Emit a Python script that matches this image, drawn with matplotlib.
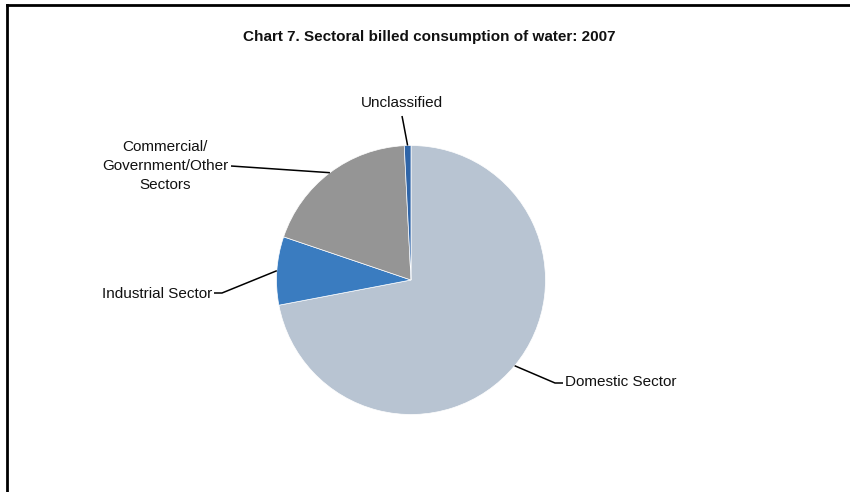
import numpy as np
import matplotlib
matplotlib.use("Agg")
import matplotlib.pyplot as plt
from matplotlib.lines import Line2D

plt.rcParams['font.family'] = ['Liberation Sans', 'DejaVu Sans']

categories = ["Domestic Sector", "Industrial Sector", "Commercial/\nGovernment/Other\nSectors", "Unclassified"]
values = [72.0, 8.2, 19.0, 0.8]
colors = ["#B8C4D2", "#3A7CC0", "#959595", "#2F65A8"]
title = "Chart 7. Sectoral billed consumption of water: 2007"

W, H = 850, 492
cx, cy, R = 411, 280, 134.5

fig = plt.figure(figsize=(W / 100, H / 100), dpi=100)
ax = fig.add_axes([0, 0, 1, 1])

def px(x, y):
    return (x - cx) / R, (cy - y) / R

wedges, _ = ax.pie(values, colors=colors, startangle=90, counterclock=False,
                   radius=1, center=(0, 0),
                   wedgeprops=dict(edgecolor="white", linewidth=0.5))
ax.set_xlim(px(0, 0)[0], px(W, 0)[0])
ax.set_ylim(px(0, H)[1], px(0, 0)[1])
ax.set_aspect('auto')
ax.axis('off')

def edge(w):
    a = np.deg2rad((w.theta1 + w.theta2) / 2)
    return np.cos(a), np.sin(a)

# label layout: (text position px, ha, leader waypoints px)
layout = [
    ((565, 382), 'left', [(555, 383), (563, 383)]),
    ((212, 294), 'right', [(222, 293), (214, 293)]),
    ((165, 166), 'center', [(231, 166)]),
    ((402, 103), 'center', [(403, 121), (402, 116)]),
]

for w, lab, (tp, ha, pts) in zip(wedges, categories, layout):
    ex, ey = edge(w)
    xs = [ex] + [px(*p)[0] for p in pts]
    ys = [ey] + [px(*p)[1] for p in pts]
    ax.plot(xs, ys, color="black", lw=1.1, solid_capstyle='butt')
    tx, ty = px(*tp)
    ax.text(tx, ty, lab, ha=ha, va='center', fontsize=11, color="#111111",
            linespacing=1.45, multialignment='center')

fig.text(429 / W, 1 - 37 / H, title, ha='center', va='center',
         fontsize=11, fontweight='bold', color="#111111")

# frame lines (left and top only)
fig.add_artist(Line2D([6.5 / W, 6.5 / W], [0, 1 - 4.5 / H], transform=fig.transFigure,
                      color="black", lw=2))
fig.add_artist(Line2D([6.5 / W, 1], [1 - 4.5 / H, 1 - 4.5 / H], transform=fig.transFigure,
                      color="black", lw=2))

fig.savefig("out.png", dpi=100)
